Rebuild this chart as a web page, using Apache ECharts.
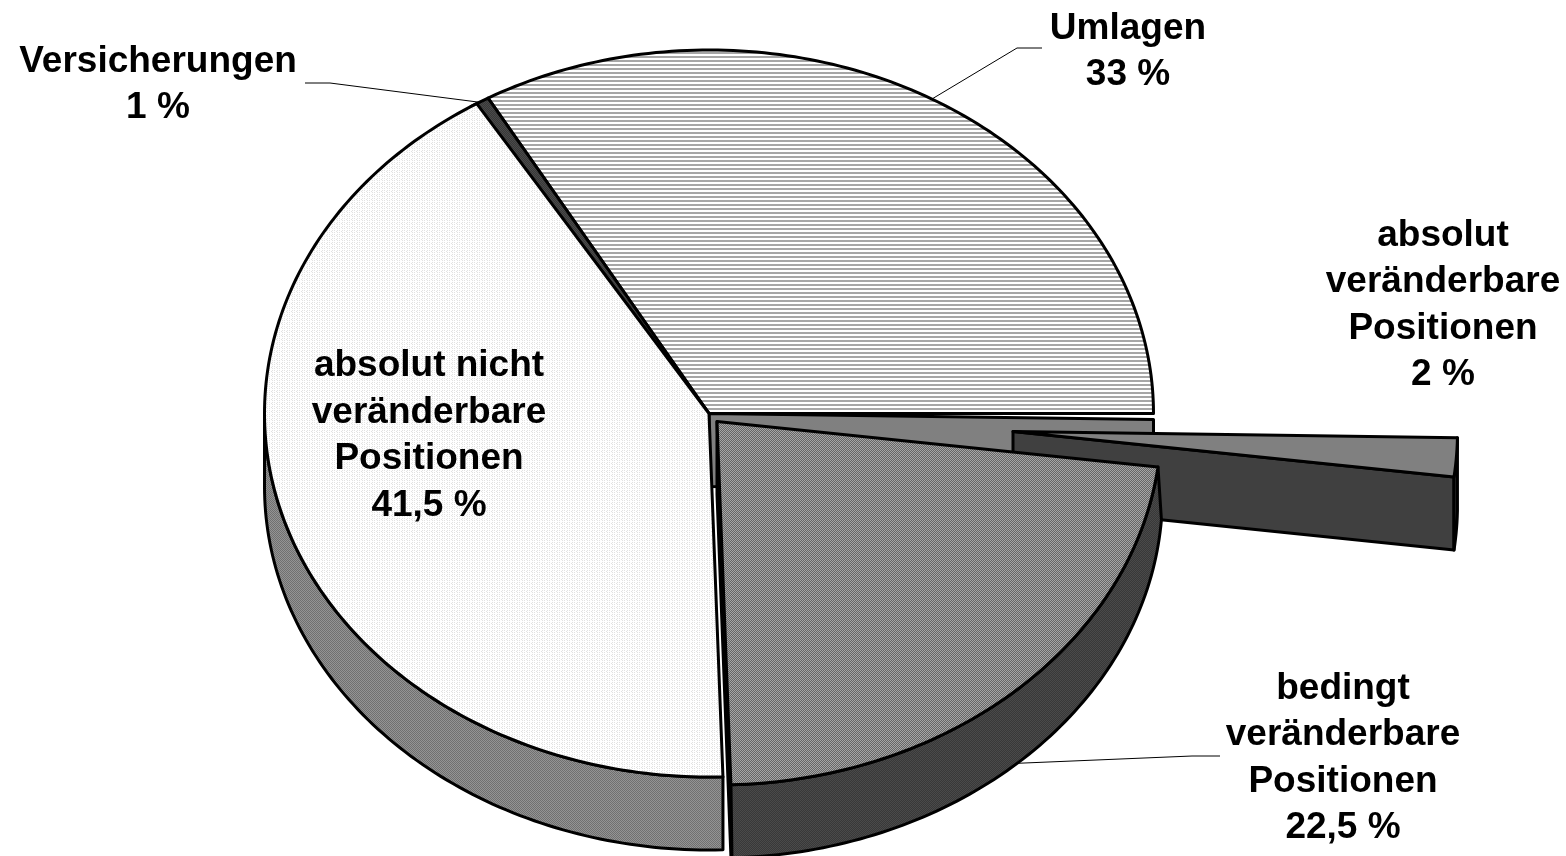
<!DOCTYPE html>
<html lang="de">
<head>
<meta charset="UTF-8">
<title>Kostenpositionen</title>
<script src="https://cdn.jsdelivr.net/npm/echarts@6/dist/echarts.min.js"></script>
<style>
  html, body { margin: 0; padding: 0; background: #fff; }
  #chart { width: 1566px; height: 856px; }
</style>
</head>
<body>
<div id="chart"></div>
<script>
// Daten, im Uhrzeigersinn ab 3 Uhr
const sliceNames = [
  'absolut\nveränderbare\nPositionen',
  'bedingt\nveränderbare\nPositionen',
  'absolut nicht\nveränderbare\nPositionen',
  'Versicherungen',
  'Umlagen'
];
const sliceValues = [2, 22.5, 41.5, 1, 33];

// Zeichenreihenfolge: hinten nach vorne
const drawOrder = [4, 3, 2, 0, 1];

const RX = 444.5;
const RY = 363.5;
const DEPTH = 73;
const CENTER = [709, 413.5];

/**
 * Kleines Pixelmuster als Füllung
 */
function pattern(rows) {
  const c = document.createElement('canvas');
  c.height = rows.length;
  c.width = rows[0].length;
  const ctx = c.getContext('2d');
  const shades = { w: '#ffffff', l: '#e2e2e2', g: '#a6a6a6', s: '#666666', d: '#4a4a4a', k: '#383838', n: '#707070', o: '#949494' };
  rows.forEach((row, y) => {
    row.split('').forEach((p, x) => {
      ctx.fillStyle = shades[p];
      ctx.fillRect(x, y, 1, 1);
    });
  });
  return { image: c, repeat: 'repeat' };
}

const fillStripes = pattern(['g', 'g', 'w', 'w']);
const fillDots = pattern(['wwlwl', 'wwwww', 'wwlwl', 'wlwww']);
const fillChecker = pattern(['gs', 'sg']);
const fillSide = pattern(['no', 'on']);
const fillDark = pattern(['dk', 'kd']);

// Lage, Füllung und Beschriftung je Segment (gleiche Reihenfolge wie sliceNames)
const sliceStyle = [
  { dx: 304, dy: 18, startShift: 1, endShift: 0, depthDx: 0, overhang: 0, top: '#808080', wall: '#404040', endWall: '#404040', faceDrop: 0,
    label: [1443, 305.5] },
  { dx: 8, dy: 8, startShift: 0, endShift: 0, depthDx: 1, overhang: 3.2, top: fillChecker, wall: fillDark, endWall: '#000', faceDrop: 0,
    label: [1343, 758.5], leader: [[1192, 756], [1220, 756]] },
  { dx: 0, dy: 0, startShift: 0, endShift: 0.9, depthDx: 0, overhang: 0, top: fillDots, wall: fillSide, endWall: null, faceDrop: 0,
    label: [429, 436] },
  { dx: 0, dy: 0, startShift: 0, endShift: -1, depthDx: 0, overhang: 0, top: fillDark, wall: fillDark, endWall: null, faceDrop: 0,
    label: [158, 85], leader: [[330, 83], [305, 83]] },
  { dx: 0, dy: 0, startShift: -1, endShift: 0, depthDx: 0, overhang: 0, top: fillStripes, wall: '#808080', endWall: '#808080', faceDrop: 6,
    label: [1128, 52], leader: [[1017, 48], [1042, 48]] }
];

const total = sliceValues.reduce((a, b) => a + b, 0);

function arcPoint(cx, cy, deg) {
  const r = deg * Math.PI / 180;
  return [cx + RX * Math.cos(r), cy + RY * Math.sin(r)];
}

function arcPoints(cx, cy, from, to) {
  const pts = [];
  const steps = Math.max(2, Math.ceil(Math.abs(to - from)));
  for (let k = 0; k <= steps; k++) {
    pts.push(arcPoint(cx, cy, from + (to - from) * k / steps));
  }
  return pts;
}

function outline(points, fill) {
  return {
    type: 'polygon',
    shape: { points: points },
    style: { fill: fill, stroke: '#000', lineWidth: 3, lineJoin: 'round' }
  };
}

function renderSlice(params, api) {
  const i = api.value(0);
  const st = sliceStyle[i];
  const before = sliceValues.slice(0, i).reduce((a, b) => a + b, 0);
  const a0 = before / total * 360 + st.startShift;
  const a1 = (before + sliceValues[i]) / total * 360 + st.endShift;
  const cx = CENTER[0] + st.dx;
  const cy = CENTER[1] + st.dy;
  const children = [];

  // Schnittfläche vorne
  if (st.endWall) {
    const p = arcPoint(cx, cy, a1);
    const tipY = p[1] + st.faceDrop;
    children.push(outline([[cx, cy], [p[0], tipY], [p[0], tipY + DEPTH], [cx, cy + DEPTH]], st.endWall));
  }

  // Außenwand, nur die vordere Hälfte ist sichtbar
  const w0 = Math.max(a0, 0);
  const w1 = Math.min(a1, 180);
  if (w1 > w0) {
    const upper = arcPoints(cx, cy, w0, w1);
    const lower = arcPoints(cx + st.depthDx, cy + DEPTH, w1, w0 - st.overhang);
    children.push(outline(upper.concat(lower), st.wall));
  }

  // Oberseite
  children.push(outline([[cx, cy]].concat(arcPoints(cx, cy, a0, a1)), st.top));

  // Führungslinie
  if (st.leader) {
    const mid = (a0 + a1) / 2;
    const isFront = mid < 180;
    const start = arcPoint(cx, cy + (isFront ? DEPTH : 0), mid);
    children.push({
      type: 'polyline',
      shape: { points: [start].concat(st.leader) },
      style: { fill: null, stroke: '#000', lineWidth: 1 }
    });
  }

  children.push({
    type: 'text',
    z2: 10,
    style: {
      x: st.label[0],
      y: st.label[1],
      text: sliceNames[i] + '\n' + String(sliceValues[i]).replace('.', ',') + ' %',
      fontFamily: '"Liberation Sans", Arial, sans-serif',
      fontWeight: 'bold',
      fontSize: 37,
      lineHeight: 46.5,
      fill: '#000',
      align: 'center',
      verticalAlign: 'middle'
    }
  });

  return { type: 'group', children: children };
}

const chart = echarts.init(document.getElementById('chart'), null, { renderer: 'canvas' });
chart.setOption({
  animation: false,
  backgroundColor: '#fff',
  series: [{
    type: 'custom',
    coordinateSystem: 'none',
    renderItem: renderSlice,
    data: drawOrder.map(i => [i]),
    silent: true
  }]
});
</script>
</body>
</html>
